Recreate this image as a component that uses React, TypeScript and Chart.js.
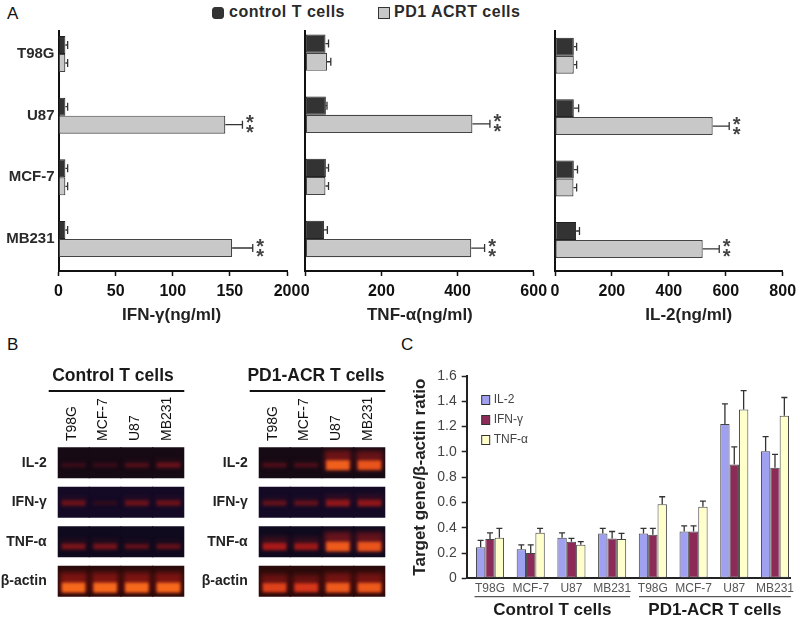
import React, { useEffect, useRef } from "react";
import { Chart, registerables } from "chart.js";

Chart.register(...registerables);

const FONT = '"Liberation Sans", Arial, sans-serif';
Chart.defaults.font.family = FONT;

// Panel A data
const cellLines = ["T98G", "U87", "MCF-7", "MB231"];
const significance = ["", "**", "", "**"];
const ifnControl = [6, 6, 6, 6];
const ifnControlTop = [8, 8, 8, 8];
const ifnPd1 = [6, 146, 6, 152];
const ifnPd1Top = [8, 161, 8, 170];
const tnfControl = [53, 54, 54, 49];
const tnfControlTop = [61, 57, 61, 58];
const tnfPd1 = [57, 439, 53, 436];
const tnfPd1Top = [67, 485, 61, 471];
const il2Control = [66, 66, 66, 74];
const il2ControlTop = [76, 83, 79, 86];
const il2Pd1 = [66, 554, 65, 519];
const il2Pd1Top = [76, 612, 76, 577];

// Panel B data (band strength per row, lanes in order)
const gelLanes = ["T98G", "MCF-7", "U87", "MB231"];
const gelRows = ["IL-2", "IFN-γ", "TNF-α", "β-actin"];
const controlGel = [
  [0.06, 0.05, 0.16, 0.26],
  [0.28, 0.02, 0.28, 0.28],
  [0.34, 0.32, 0.22, 0.24],
  [0.95, 0.95, 0.95, 0.95],
];
const pd1Gel = [
  [0.14, 0.14, 0.92, 0.88],
  [0.24, 0.24, 0.44, 0.44],
  [0.55, 0.5, 0.9, 0.88],
  [0.82, 0.78, 0.9, 0.9],
];

// Panel C data
const ratioGroups = ["T98G", "MCF-7", "U87", "MB231", "T98G", "MCF-7", "U87", "MB231"];
const ratioIl2 = [0.245, 0.23, 0.32, 0.355, 0.355, 0.37, 1.22, 1.005];
const ratioIl2Top = [0.3, 0.265, 0.36, 0.395, 0.395, 0.415, 1.38, 1.12];
const ratioIfn = [0.31, 0.2, 0.29, 0.315, 0.345, 0.37, 0.9, 0.875];
const ratioIfnTop = [0.36, 0.265, 0.315, 0.37, 0.395, 0.415, 1.04, 0.98];
const ratioTnf = [0.32, 0.36, 0.265, 0.31, 0.585, 0.565, 1.335, 1.285];
const ratioTnfTop = [0.395, 0.395, 0.29, 0.355, 0.645, 0.61, 1.485, 1.43];

const noPad = (s: any) => {
  s.paddingLeft = 0;
  s.paddingRight = 0;
  s.paddingTop = 0;
  s.paddingBottom = 0;
};

const errorPlugin = {
  id: "errorMarks",
  afterDatasetsDraw(chart: any) {
    const { ctx } = chart;
    const horizontal = chart.options.indexAxis === "y";
    chart.data.datasets.forEach((ds: any, d: number) => {
      if (!ds.errorEnd) return;
      const meta = chart.getDatasetMeta(d);
      const scale = horizontal ? chart.scales.x : chart.scales.y;
      meta.data.forEach((el: any, i: number) => {
        const end = scale.getPixelForValue(ds.errorEnd[i]);
        ctx.save();
        ctx.strokeStyle = "#333";
        ctx.lineWidth = 1.3;
        ctx.beginPath();
        if (horizontal) {
          ctx.moveTo(el.x, el.y);
          ctx.lineTo(end, el.y);
          ctx.moveTo(end, el.y - 4);
          ctx.lineTo(end, el.y + 4);
        } else {
          ctx.moveTo(el.x, el.y);
          ctx.lineTo(el.x, end);
          ctx.moveTo(el.x - 3, end);
          ctx.lineTo(el.x + 3, end);
        }
        ctx.stroke();
        if (ds.marks && ds.marks[i]) {
          ctx.fillStyle = "#444";
          ctx.font = `bold 20px ${FONT}`;
          ctx.textAlign = "center";
          ctx.textBaseline = "middle";
          const chars = ds.marks[i].split("");
          chars.forEach((c: string, k: number) => {
            ctx.fillText(c, end + 7.5, el.y + (k === 0 ? -5 : 5) + 4);
          });
        }
        ctx.restore();
      });
    });
  },
};

const captionPlugin = {
  id: "caption",
  afterDraw(chart: any, _a: any, opts: any) {
    if (!opts || !opts.text) return;
    const { ctx } = chart;
    ctx.save();
    ctx.fillStyle = "#222";
    ctx.font = `bold 17px ${FONT}`;
    ctx.textAlign = "center";
    ctx.textBaseline = "middle";
    ctx.fillText(opts.text, chart.scales.x.getPixelForValue(opts.value), opts.y);
    ctx.restore();
  },
};

function HBar({ frame, labels, control, controlTop, pd1, pd1Top, max, step, caption, captionValue, showY, yMin, yMax }: any) {
  const ref = useRef<HTMLCanvasElement>(null);
  useEffect(() => {
    const chart = new Chart(ref.current!, {
      type: "bar",
      plugins: [errorPlugin, captionPlugin],
      data: {
        datasets: [
          {
            label: "control T cells",
            data: control.map((v: number, i: number) => ({ x: v, y: i })),
            errorEnd: controlTop,
            backgroundColor: "#333333",
            borderColor: "#222222",
            borderWidth: 1,
            borderSkipped: false,
            categoryPercentage: 0.585,
            barPercentage: 1,
          },
          {
            label: "PD1 ACRT cells",
            data: pd1.map((v: number, i: number) => ({ x: v, y: i })),
            errorEnd: pd1Top,
            marks: significance,
            backgroundColor: "#c8c8c8",
            borderColor: "#444444",
            borderWidth: 1.2,
            borderSkipped: false,
            categoryPercentage: 0.585,
            barPercentage: 1,
          },
        ] as any,
      },
      options: {
        responsive: false,
        animation: false,
        indexAxis: "y",
        layout: { padding: { top: frame.top, right: frame.right } },
        plugins: {
          legend: { display: false },
          tooltip: { enabled: false },
          caption: { text: caption, value: captionValue, y: 315 - frame.canvasTop },
        } as any,
        scales: {
          x: {
            type: "linear",
            min: 0,
            max,
            ticks: { stepSize: step, color: "#111", padding: 6, font: { size: 16, weight: "bold" }, maxRotation: 0 },
            grid: { drawOnChartArea: false, tickLength: 5, tickWidth: 1.5, tickColor: "#111" },
            border: { color: "#111", width: 2 },
            afterFit: (s: any) => { s.height = frame.bottom; noPad(s); },
          },
          y: {
            type: "linear",
            reverse: true,
            offset: false,
            min: yMin,
            max: yMax,
            afterBuildTicks: (s: any) => { s.ticks = labels.map((_: string, i: number) => ({ value: i })); },
            ticks: {
              display: showY,
              autoSkip: false,
              color: "#2a2a2a",
              padding: 4,
              font: { size: 15, weight: "bold" },
              callback: (v: any) => labels[v],
            },
            grid: { offset: false, drawOnChartArea: false, drawTicks: false },
            border: { color: "#111", width: 2 },
            afterFit: (s: any) => { s.width = frame.left; noPad(s); },
          },
        } as any,
      },
    } as any);
    return () => chart.destroy();
  }, []);
  return (
    <canvas
      ref={ref}
      width={frame.width}
      height={frame.height}
      style={{ position: "absolute", left: frame.canvasLeft, top: frame.canvasTop }}
    />
  );
}

function mix(a: number[], b: number[], t: number) {
  return a.map((v, i) => Math.round(v + (b[i] - v) * t));
}
function bandRgb(s: number) {
  const dim = [50, 10, 26];
  const red = [200, 30, 25];
  const hot = [255, 120, 30];
  return s < 0.7 ? mix(dim, red, s / 0.7) : mix(red, hot, (s - 0.7) / 0.3);
}

const ROW_HALF = 0.39;
const rowShade = ["#160a14", "#140a26", "#100a1e", "#2a0a0a"];
const bandOffset = [0.06, 0.02, 0.12, 0.16];

const gelPlugin = {
  id: "gelBlur",
  beforeDatasetDraw(chart: any, args: any) {
    const ds = chart.data.datasets[args.index];
    if (!ds.blur) return;
    const { ctx, chartArea, scales } = chart;
    ctx.save();
    ctx.beginPath();
    gelRows.forEach((_r, r) => {
      const t = scales.y.getPixelForValue(r - ROW_HALF);
      const b = scales.y.getPixelForValue(r + ROW_HALF);
      ctx.rect(chartArea.left, t, chartArea.right - chartArea.left, b - t);
    });
    ctx.clip();
    ctx.filter = `blur(${ds.blur}px)`;
  },
  afterDatasetDraw(chart: any, args: any) {
    const ds = chart.data.datasets[args.index];
    if (ds.blur) chart.ctx.restore();
  },
  afterDraw(chart: any, _a: any, opts: any) {
    const { ctx, chartArea } = chart;
    ctx.save();
    ctx.fillStyle = "#1a1a1a";
    ctx.font = `bold 17.5px ${FONT}`;
    ctx.textAlign = "center";
    ctx.textBaseline = "middle";
    ctx.fillText(opts.title, opts.titleX - chart.canvas.offsetLeft, 376 - chart.canvas.offsetTop);
    ctx.strokeStyle = "#111";
    ctx.lineWidth = 2;
    ctx.beginPath();
    ctx.moveTo(chartArea.left - 9, 391 - chart.canvas.offsetTop);
    ctx.lineTo(chartArea.right, 391 - chart.canvas.offsetTop);
    ctx.stroke();
    ctx.restore();
  },
};

function Gel({ title, titleX, strengths, left, axisWidth, rightPad }: any) {
  const ref = useRef<HTMLCanvasElement>(null);
  useEffect(() => {
    const backgrounds = gelRows.map((_r, r) => ({
      data: gelLanes.map(() => [r - ROW_HALF, r + ROW_HALF]),
      backgroundColor: rowShade[r],
      order: 3,
      categoryPercentage: 1,
      barPercentage: 1.04,
    }));
    const halos = gelRows.map((_r, r) => ({
      data: gelLanes.map((_l, l) => {
        const s = strengths[r][l];
        const c = r + bandOffset[r];
        return [c - 0.06 - 0.34 * s, c + 0.05 + 0.08 * s];
      }),
      backgroundColor: gelLanes.map((_l, l) => {
        const s = strengths[r][l];
        const [cr, cg, cb] = bandRgb(s * 0.72);
        return `rgba(${cr},${cg},${cb},${0.15 + 0.4 * s})`;
      }),
      order: 2,
      blur: 2.5,
      categoryPercentage: 1,
      barPercentage: 0.84,
    }));
    const cores = gelRows.map((_r, r) => ({
      data: gelLanes.map((_l, l) => {
        const s = strengths[r][l];
        const c = r + bandOffset[r];
        return [c - 0.04 - 0.09 * s, c + 0.04 + 0.09 * s];
      }),
      backgroundColor: gelLanes.map((_l, l) => {
        const [cr, cg, cb] = bandRgb(strengths[r][l]);
        return `rgb(${cr},${cg},${cb})`;
      }),
      order: 1,
      blur: 1.5,
      categoryPercentage: 1,
      barPercentage: 0.74,
    }));
    const chart = new Chart(ref.current!, {
      type: "bar",
      plugins: [gelPlugin],
      data: { labels: gelLanes, datasets: [...backgrounds, ...halos, ...cores] as any },
      options: {
        responsive: false,
        animation: false,
        layout: { padding: { right: rightPad, top: 0 } },
        datasets: { bar: { grouped: false } },
        plugins: {
          legend: { display: false },
          tooltip: { enabled: false },
          gelBlur: { title, titleX },
        } as any,
        scales: {
          x: {
            position: "top",
            ticks: { autoSkip: false, minRotation: 90, maxRotation: 90, color: "#111", padding: 2, labelOffset: 15, font: { size: 14 } },
            grid: { display: false, tickLength: 0 },
            border: { display: false },
            afterFit: (s: any) => { s.height = 83; noPad(s); },
          },
          y: {
            type: "linear",
            reverse: true,
            offset: false,
            min: -0.5,
            max: 3.5,
            afterBuildTicks: (s: any) => { s.ticks = gelRows.map((_r, i) => ({ value: i })); },
            ticks: {
              autoSkip: false,
              color: "#222",
              padding: 3,
              font: { size: 14, weight: "bold" },
              callback: (v: any) => gelRows[v],
            },
            grid: { display: false },
            border: { display: false },
            afterFit: (s: any) => { s.width = axisWidth; noPad(s); },
          },
        } as any,
      },
    } as any);
    return () => chart.destroy();
  }, []);
  return (
    <canvas ref={ref} width={194} height={241} style={{ position: "absolute", left, top: 360 }} />
  );
}

const ratioPlugin = {
  id: "ratioExtras",
  afterDraw(chart: any) {
    const { ctx, scales, chartArea } = chart;
    ctx.save();
    ctx.font = `12px ${FONT}`;
    ctx.textBaseline = "middle";
    chart.data.datasets.forEach((ds: any, i: number) => {
      const y = chartArea.top + 24 + i * 20;
      ctx.fillStyle = ds.backgroundColor;
      ctx.strokeStyle = "#333";
      ctx.lineWidth = 1;
      ctx.fillRect(scales.x.left + 15, y - 4.5, 8, 9);
      ctx.strokeRect(scales.x.left + 15, y - 4.5, 8, 9);
      ctx.fillStyle = "#444";
      ctx.textAlign = "left";
      ctx.fillText(ds.label, scales.x.left + 27, y);
    });
    const groups = [
      { from: -0.38, to: 3.44, text: "Control T cells" },
      { from: 3.66, to: 7.39, text: "PD1-ACR T cells" },
    ];
    const lineY = 596.7 - chart.canvas.offsetTop;
    groups.forEach((g) => {
      const a = scales.x.getPixelForValue(g.from);
      const b = scales.x.getPixelForValue(g.to);
      ctx.strokeStyle = "#555";
      ctx.lineWidth = 1.2;
      ctx.beginPath();
      ctx.moveTo(a, lineY);
      ctx.lineTo(b, lineY);
      ctx.stroke();
      ctx.fillStyle = "#1a1a1a";
      ctx.font = `bold 17px ${FONT}`;
      ctx.textAlign = "center";
      ctx.fillText(g.text, (a + b) / 2, 610 - chart.canvas.offsetTop);
    });
    ctx.restore();
  },
};

function Ratio() {
  const ref = useRef<HTMLCanvasElement>(null);
  useEffect(() => {
    const series = (label: string, values: number[], top: number[], color: string) => ({
      label,
      data: values.map((v, i) => ({ x: i, y: v })),
      errorEnd: top,
      backgroundColor: color,
      borderColor: "#444",
      borderWidth: 1,
      borderSkipped: false,
      categoryPercentage: 0.69,
      barPercentage: 1,
    });
    const chart = new Chart(ref.current!, {
      type: "bar",
      plugins: [errorPlugin, ratioPlugin],
      data: {
        datasets: [
          series("IL-2", ratioIl2, ratioIl2Top, "#a0a0f0"),
          series("IFN-γ", ratioIfn, ratioIfnTop, "#8c2a58"),
          series("TNF-α", ratioTnf, ratioTnfTop, "#ffffcc"),
        ] as any,
      },
      options: {
        responsive: false,
        animation: false,
        layout: { padding: { top: 16, right: 9.3 } },
        plugins: { legend: { display: false }, tooltip: { enabled: false } },
        scales: {
          x: {
            type: "linear",
            offset: false,
            min: -0.5725,
            max: 7.386,
            afterBuildTicks: (s: any) => { s.ticks = ratioGroups.map((_g, i) => ({ value: i })); },
            ticks: {
              autoSkip: false,
              maxRotation: 0,
              color: "#555",
              padding: 3,
              font: { size: 12 },
              callback: (v: any) => ratioGroups[v],
            },
            grid: { offset: false, drawOnChartArea: false, drawTicks: false },
            border: { color: "#222", width: 2 },
            afterFit: (s: any) => { s.height = 41.7; noPad(s); },
          },
          y: {
            min: 0,
            max: 1.6,
            ticks: { stepSize: 0.2, color: "#444", padding: 5, font: { size: 14 } },
            grid: { drawOnChartArea: false, tickLength: 5, tickColor: "#222", tickWidth: 1.5 },
            border: { color: "#222", width: 2 },
            title: {
              display: true,
              text: "Target gene/β-actin ratio",
              color: "#222",
              padding: { top: 10, bottom: 0 },
              font: { size: 17, weight: "bold" },
            },
            afterFit: (s: any) => { s.width = 66.7; noPad(s); },
          },
        } as any,
      },
    } as any);
    return () => chart.destroy();
  }, []);
  return <canvas ref={ref} width={400} height={260} style={{ position: "absolute", left: 400, top: 360 }} />;
}

const letter = (t: string, left: number, top: number) => (
  <div style={{ position: "absolute", left, top, font: `17px ${FONT}`, color: "#111", lineHeight: "18px" }}>{t}</div>
);
const swatch = (left: number, color: string, rounded: number) => (
  <div
    style={{
      position: "absolute",
      left,
      top: 7,
      width: 10,
      height: 10,
      background: color,
      border: "1px solid #333",
      borderRadius: rounded,
    }}
  />
);
const legendText = (t: string, left: number, spacing: string) => (
  <div
    style={{
      position: "absolute",
      left,
      top: 2,
      font: `bold 16px ${FONT}`,
      letterSpacing: spacing,
      color: "#2a2a2a",
      lineHeight: "20px",
      whiteSpace: "pre",
    }}
  >
    {t}
  </div>
);

export default function App() {
  return (
    <div style={{ position: "absolute", left: 0, top: 0, width: 800, height: 620, background: "#fff", overflow: "hidden" }}>
      {letter("A", 7, 5)}
      {letter("B", 7, 336)}
      {letter("C", 401, 336)}
      {swatch(212, "#333", 3)}
      {legendText("control T cells", 229, "0.5px")}
      {swatch(378, "#c8c8c8", 0)}
      {legendText("PD1 ACRT cells", 394, "0.5px")}
      <HBar
        frame={{ canvasLeft: 0, canvasTop: 20, width: 312, height: 310, left: 58.5, top: 11, right: 25, bottom: 59 }}
        labels={cellLines}
        control={ifnControl}
        controlTop={ifnControlTop}
        pd1={ifnPd1}
        pd1Top={ifnPd1Top}
        max={200}
        step={50}
        caption="IFN-γ(ng/ml)"
        captionValue={99}
        showY={true}
        yMin={-0.373}
        yMax={3.519}
      />
      <HBar
        frame={{ canvasLeft: 295, canvasTop: 20, width: 255, height: 310, left: 10.3, top: 11, right: 16.3, bottom: 59 }}
        labels={cellLines}
        control={tnfControl}
        controlTop={tnfControlTop}
        pd1={tnfPd1}
        pd1Top={tnfPd1Top}
        max={600}
        step={200}
        caption="TNF-α(ng/ml)"
        captionValue={301}
        showY={false}
        yMin={-0.349}
        yMax={3.515}
      />
      <HBar
        frame={{ canvasLeft: 545, canvasTop: 20, width: 255, height: 310, left: 10, top: 11, right: 17.3, bottom: 59 }}
        labels={cellLines}
        control={il2Control}
        controlTop={il2ControlTop}
        pd1={il2Pd1}
        pd1Top={il2Pd1Top}
        max={800}
        step={200}
        caption="IL-2(ng/ml)"
        captionValue={470}
        showY={false}
        yMin={-0.402}
        yMax={3.505}
      />
      <Gel title="Control T cells" titleX={113} strengths={controlGel} left={0} axisWidth={57.7} rightPad={9.7} />
      <Gel title="PD1-ACR T cells" titleX={316} strengths={pd1Gel} left={200} axisWidth={58.7} rightPad={8.7} />
      <Ratio />
    </div>
  );
}
